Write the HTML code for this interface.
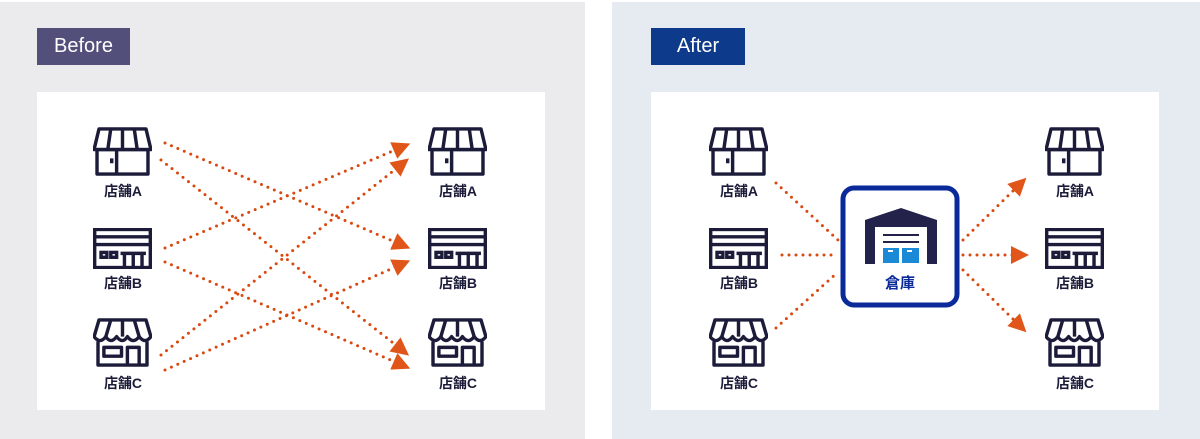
<!DOCTYPE html>
<html><head><meta charset="utf-8"><style>
body{margin:0;width:1200px;height:439px;background:#fff;position:relative;overflow:hidden;font-family:"Liberation Sans","Noto Sans CJK JP",sans-serif}
.p{position:absolute;top:2px;height:437px}
.box{position:absolute;top:92px;width:508px;height:318px;background:#fff}
.tag{position:absolute;top:28px;height:37px;color:#fff;font-size:20px;line-height:37px;text-align:center}
.lbl{position:absolute;width:80px;text-align:center;font-size:14px;font-weight:bold;color:#1c1c3a}
</style></head><body>
<div class="p" style="left:0;width:585px;background:#ebebee"></div>
<div class="p" style="left:612px;width:588px;background:#e6eaf1"></div>
<div class="box" style="left:37px"></div>
<div class="box" style="left:651px"></div>
<div class="tag" style="left:37px;width:93px;background:#52507a">Before</div>
<div class="tag" style="left:651px;width:94px;background:#0d3a8a">After</div>
<svg width="1200" height="439" style="position:absolute;left:0;top:0">
<defs>
<symbol id="sa" viewBox="0 0 60 50"><g fill="none" stroke="#1c1c3a" stroke-width="3.5" stroke-linejoin="round">
<path d="M6 2H54L59 23H1Z"/><path d="M18 2L15 23M30 2V23M42 2L45 23"/><rect x="4" y="23" width="52" height="25"/><path d="M24 23V48M19 32V37"/></g></symbol>
<symbol id="sb" viewBox="0 0 60 42"><g fill="none" stroke="#1c1c3a" stroke-width="3.5">
<rect x="1.5" y="1.5" width="57" height="39"/><path d="M1.5 9H58.5M1.5 17H58.5"/><rect x="8" y="25" width="6" height="5"/><rect x="18" y="25" width="6" height="5"/><path d="M28 26H54M32 26V40M41 26V40M50 26V40"/></g></symbol>
<symbol id="sc" viewBox="0 0 60 50"><g fill="none" stroke="#1c1c3a" stroke-width="3.5" stroke-linejoin="round">
<path d="M6 2H54L59 19Q53 27 47 19Q41 27 35 19Q30 27 24 19Q18 27 13 19Q7 27 1 19Z"/><path d="M18 2L13 19M30 2V19M42 2L47 19"/><path d="M5 24V48H55V24"/><rect x="11" y="30" width="18" height="9"/><path d="M35 48V30H47V48"/></g></symbol>
<marker id="ar" viewBox="0 0 10 10" refX="5" refY="5" markerWidth="6" markerHeight="6" orient="auto"><path d="M0 0L10 5L0 10Z" fill="#e0561a"/></marker>
</defs>
<use href="#sa" x="93" y="127" width="59" height="49"/>
<use href="#sb" x="93" y="228" width="59" height="41"/>
<use href="#sc" x="93" y="318" width="59" height="49"/>
<use href="#sa" x="428" y="127" width="59" height="49"/>
<use href="#sb" x="428" y="228" width="59" height="41"/>
<use href="#sc" x="428" y="318" width="59" height="49"/>
<use href="#sa" x="709" y="127" width="59" height="49"/>
<use href="#sb" x="709" y="228" width="59" height="41"/>
<use href="#sc" x="709" y="318" width="59" height="49"/>
<use href="#sa" x="1045" y="127" width="59" height="49"/>
<use href="#sb" x="1045" y="228" width="59" height="41"/>
<use href="#sc" x="1045" y="318" width="59" height="49"/>
<g stroke="#d9480f" stroke-width="3" stroke-dasharray="0 7" stroke-linecap="round" fill="none" marker-end="url(#ar)">
<path d="M165 143L402 245"/><path d="M161 160L402 350"/>
<path d="M165 248L402 147"/><path d="M165 262L402 365"/>
<path d="M161 355L402 164"/><path d="M165 370L402 264"/>
<path d="M963 240L1020 184"/><path d="M963 255L1020 255"/><path d="M963 270L1020 326"/>
</g>
<g stroke="#d9480f" stroke-width="3" stroke-dasharray="0 7" stroke-linecap="round" fill="none">
<path d="M776 183L838 240"/><path d="M782 255L838 255"/><path d="M776 328L838 272"/>
</g>
<rect x="843" y="188" width="114" height="117" rx="11" fill="#fff" stroke="#0a2a9a" stroke-width="5"/>
<path d="M865 220L901 208L937 220V264H927V227H875V264H865Z" fill="#22224a"/>
<path d="M883 235H919M883 242H919" stroke="#22224a" stroke-width="2"/>
<rect x="883" y="248" width="16" height="15" fill="#1b8ad6"/><rect x="902" y="248" width="17" height="15" fill="#1b8ad6"/>
<path d="M888 251H893M907 251H912" stroke="#fff" stroke-width="2"/>
</svg>
<div class="lbl" style="left:83px;top:181px">店舗A</div>
<div class="lbl" style="left:83px;top:273px">店舗B</div>
<div class="lbl" style="left:83px;top:373px">店舗C</div>
<div class="lbl" style="left:418px;top:181px">店舗A</div>
<div class="lbl" style="left:418px;top:273px">店舗B</div>
<div class="lbl" style="left:418px;top:373px">店舗C</div>
<div class="lbl" style="left:699px;top:181px">店舗A</div>
<div class="lbl" style="left:699px;top:273px">店舗B</div>
<div class="lbl" style="left:699px;top:373px">店舗C</div>
<div class="lbl" style="left:1035px;top:181px">店舗A</div>
<div class="lbl" style="left:1035px;top:273px">店舗B</div>
<div class="lbl" style="left:1035px;top:373px">店舗C</div>
<div class="lbl" style="left:860px;top:272px;font-size:15px;color:#0a2a9a">倉庫</div>
</body></html>
